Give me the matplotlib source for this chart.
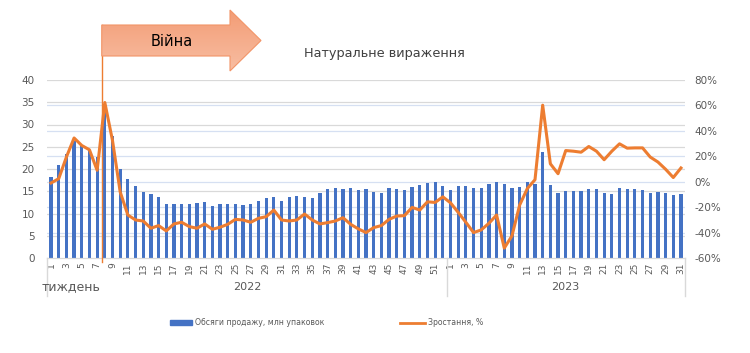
import matplotlib
matplotlib.use("Agg")
import matplotlib.pyplot as plt
import numpy as np
from matplotlib.patches import Polygon, Rectangle
from matplotlib.lines import Line2D

# ---------------- data ----------------
weeks_2022 = list(range(1, 53))
weeks_2023 = list(range(1, 32))

sales_2022 = [18.1, 20.9, 23.4, 26.4, 25.3, 24.2, 22.7, 34.5, 27.5, 19.9,
              17.7, 16.1, 14.9, 14.3, 13.7, 12.2, 12.2, 12.2, 12.2, 12.4,
              12.6, 11.7, 12.2, 12.2, 12.2, 11.9, 12.2, 12.8, 13.4, 13.8,
              12.8, 13.8, 13.9, 13.8, 13.5, 14.6, 15.5, 15.7, 15.5, 15.8,
              15.2, 15.5, 14.9, 14.6, 15.7, 15.5, 15.2, 16.0, 16.4, 16.8,
              17.1, 16.2]
sales_2023 = [15.2, 16.2, 16.2, 15.8, 15.8, 16.7, 17.0, 16.7, 15.8, 16.0,
              17.0, 16.6, 23.8, 16.4, 14.5, 15.0, 15.0, 15.0, 15.6, 15.4,
              14.6, 14.3, 15.8, 15.5, 15.5, 15.2, 14.6, 14.9, 14.6, 14.1,
              14.3]

growth_2022 = [-1.0, 2.4, 19.4, 34.4, 28.5, 25.1, 9.0, 62.3, 32.4, -8.0,
               -26.2, -30.1, -30.9, -36.6, -34.5, -38.7, -33.2, -31.9, -35.3, -36.6,
               -33.2, -37.4, -35.8, -33.5, -29.6, -30.1, -31.9, -28.8, -27.5, -22.3,
               -30.1, -30.9, -30.1, -25.4, -30.1, -33.2, -32.2, -30.9, -28.3, -33.5,
               -37.1, -40.0, -36.1, -34.5, -29.6, -27.0, -26.7, -20.2, -22.3, -15.8,
               -16.3, -11.9]
growth_2023 = [-16.6, -24.1, -31.9, -40.0, -37.9, -32.7, -26.2, -52.2, -42.6, -18.4,
               -5.4, 1.6, 60.2, 14.1, 6.3, 24.5, 24.0, 23.2, 27.7, 24.0,
               17.3, 24.0, 29.8, 26.4, 26.6, 26.6, 19.4, 15.5, 9.8, 3.3,
               10.8]

years = ["2022", "2023"]
left_ticks = [0, 5, 10, 15, 20, 25, 30, 35, 40]
right_ticks = [-60, -40, -20, 0, 20, 40, 60, 80]
war_pos = 6.6  # between week 7 and week 8 of 2022

title = "Натуральне вираження"
bar_label = "Обсяги продажу, млн упаковок"
line_label = "Зростання, %"

# ---------------- figure ----------------
W, H = 750, 353
fig = plt.figure(figsize=(W / 100, H / 100), dpi=100)
plt.rcParams['font.family'] = ['DejaVu Sans']

def fx(px):
    return px / W

def fy(py):
    return 1 - py / H

ax_left, ax_right, ax_top, ax_bottom = 47.2, 684.8, 80, 258
ax = fig.add_axes([fx(ax_left), fy(ax_bottom), fx(ax_right - ax_left), (ax_bottom - ax_top) / H])
ax2 = ax.twinx()

sales = sales_2022 + sales_2023
growth = growth_2022 + growth_2023
labels = [str(w) for w in weeks_2022] + [str(w) for w in weeks_2023]
x = np.arange(len(sales))

blue = "#4472C4"
orange = "#ED7D31"
grey_txt = "#595959"

ax.set_xlim(-0.5, len(sales) - 0.5)
ax.set_ylim(left_ticks[0], left_ticks[-1])
ax2.set_ylim(right_ticks[0], right_ticks[-1])

# gridlines
for t in left_ticks[1:]:
    ax.axhline(t, color="#D9D9D9", lw=0.9, zorder=0)
l0, l1 = left_ticks[0], left_ticks[-1]
r0, r1 = right_ticks[0], right_ticks[-1]
for t in right_ticks[1:-1]:
    ax.axhline((t - r0) / (r1 - r0) * (l1 - l0) + l0, color="#D6E0F2", lw=0.9, zorder=0)

bars = ax.bar(x, sales, width=0.42, color=blue, zorder=2)
line, = ax2.plot(x, growth, color=orange, lw=2.2, solid_joinstyle="round", zorder=3)

ax.set_yticks(left_ticks)
ax2.set_yticks(right_ticks)
ax2.set_yticklabels([f"{t}%" for t in right_ticks])
ax.tick_params(axis="y", length=0, labelsize=7.5, labelcolor=grey_txt, pad=9)
ax2.tick_params(axis="y", length=0, labelsize=7.5, labelcolor=grey_txt, pad=7)

ax.set_xticks(x)
ax.set_xticklabels([l if int(l) % 2 == 1 else "" for l in labels], rotation=90,
                   fontsize=6.5, color=grey_txt)
ax.tick_params(axis="x", length=0, pad=3)

for a in (ax, ax2):
    for s in ("left", "right", "top"):
        a.spines[s].set_visible(False)
    a.spines["bottom"].set_color("#D9D9D9")

def px_of(pos):
    return ax_left + (pos + 0.5) / len(sales) * (ax_right - ax_left)

# year separators and labels
n22 = len(weeks_2022)
for pos in (-0.5, n22 - 0.5, len(sales) - 0.5):
    xp = ax_left + (pos + 0.5) / len(sales) * (ax_right - ax_left)
    fig.add_artist(Line2D([fx(xp), fx(xp)], [fy(258), fy(296)], color="#D9D9D9", lw=1.0))

fig.text(fx(px_of((n22 - 1) / 2)), fy(287), years[0], ha="center", va="center",
         fontsize=8, color=grey_txt)
fig.text(fx(px_of(n22 + (len(weeks_2023) - 1) / 2)), fy(287), years[1], ha="center",
         va="center", fontsize=8, color=grey_txt)
fig.text(fx(42), fy(287), "тиждень", ha="left", va="center", fontsize=9, color=grey_txt)

# war line
wx = px_of(war_pos)
fig.add_artist(Line2D([fx(wx), fx(wx)], [fy(25), fy(262)], color=orange, lw=1.0, zorder=5))

# arrow with gradient
aax = fig.add_axes([0, 0, 1, 1], zorder=6)
aax.set_xlim(0, W)
aax.set_ylim(H, 0)
aax.axis("off")
aax.patch.set_alpha(0)
pts = [(wx, 25), (230, 25), (230, 10), (261, 40.5), (230, 71), (230, 56), (wx, 56)]
poly = Polygon(pts, closed=True, facecolor="none", edgecolor="#F29467", lw=0.8, zorder=3)
aax.add_patch(poly)
c_top = np.array(matplotlib.colors.to_rgb("#F39C75"))
c_bot = np.array(matplotlib.colors.to_rgb("#F8BEA3"))
t = np.linspace(0, 1, 64)[:, None]
grad = (c_top[None, :] * (1 - t) + c_bot[None, :] * t)[:, None, :]
im = aax.imshow(grad, extent=(wx, 262, 72, 9), aspect="auto", zorder=2)
im.set_clip_path(poly)
aax.text(172, 41, "Війна", ha="center", va="center", fontsize=10.5, color="black", zorder=4)

# title
fig.text(fx(384), fy(53), title, ha="center", va="center", fontsize=9.3, color="#404040")

# legend
fig.add_artist(Rectangle((fx(170), fy(325)), fx(22), 5 / H, color=blue,
                         transform=fig.transFigure))
fig.text(fx(195), fy(322.5), bar_label, ha="left", va="center", fontsize=5.6, color=grey_txt)
fig.add_artist(Line2D([fx(400), fx(425)], [fy(322.5), fy(322.5)], color=orange, lw=2.0))
fig.text(fx(428), fy(322.5), line_label, ha="left", va="center", fontsize=5.6, color=grey_txt)

fig.savefig("out.png", dpi=100)
